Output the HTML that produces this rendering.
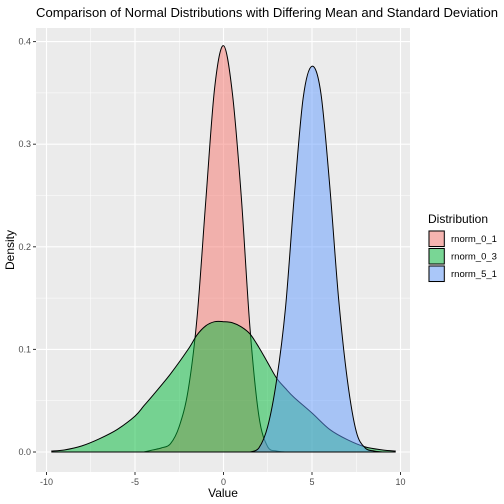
<!DOCTYPE html>
<html><head><meta charset="utf-8"><style>
body{margin:0;background:#fff;}
svg{display:block;font-family:"Liberation Sans",Arial,sans-serif;}
</style></head><body>
<svg id="chart" width="504" height="504">
<rect width="504" height="504" fill="#fff"/>
<text x="267" y="17" font-size="13.2" textLength="462" lengthAdjust="spacingAndGlyphs" text-anchor="middle" fill="#000">Comparison of Normal Distributions with Differing Mean and Standard Deviation</text>
<g id="panel"></g>
<text x="223" y="497" font-size="12" text-anchor="middle">Value</text>
<text transform="translate(14,250) rotate(-90)" font-size="12" text-anchor="middle">Density</text>
<g>
<text x="428" y="223" font-size="12">Distribution</text>
<g id="legend-keys"></g>
</g>
</svg>
<script>
const seriesNames = ["rnorm_0_1","rnorm_0_3","rnorm_5_1"];
const redX = [-4.5,-4,-3.5,-3,-2.5,-2,-1.5,-1,-0.5,0,0.5,1,1.5,2,2.5,3,3.5];
const redY = [0,0.002,0.004,0.008,0.025,0.06,0.13,0.245,0.355,0.396,0.35,0.25,0.12,0.035,0.005,0.001,0];
const greenX = [-9.7,-9,-8,-7,-6,-5,-4.5,-4,-3,-2,-1.5,-1,-0.5,0,0.5,1,1.5,2,2.5,3,3.5,4,5,6,7,8,9,9.7];
const greenY = [0.001,0.002,0.006,0.013,0.022,0.035,0.045,0.055,0.076,0.1,0.114,0.123,0.127,0.127,0.126,0.122,0.115,0.102,0.087,0.072,0.062,0.053,0.038,0.022,0.012,0.005,0.002,0.001];
const blueX = [1.5,2,2.5,3,3.5,4,4.5,5,5.5,6,6.5,7,7.5,8,8.5,9];
const blueY = [0,0.004,0.025,0.07,0.14,0.25,0.345,0.376,0.35,0.26,0.15,0.07,0.02,0.004,0.001,0];
const xTicks = [-10,-5,0,5,10];
const xTickLabels = ["-10","-5","0","5","10"];
const yTicks = [0,0.1,0.2,0.3,0.4];
const yTickLabels = ["0.0","0.1","0.2","0.3","0.4"];
const fills = ["#F8766D","#00BA38","#619CFF"];

const L=36,R=410,T=28,B=472;
const xs = v => 223.5 + 17.7*v;
const ys = d => 452 - 1026*d;
const NS="http://www.w3.org/2000/svg";
const panel=document.getElementById('panel');
function mk(tag,attrs,parent){const e=document.createElementNS(NS,tag);for(const k in attrs)e.setAttribute(k,attrs[k]);(parent||panel).appendChild(e);return e;}

const bg=mk('rect',{x:L,y:T,width:R-L,height:B-T,fill:'#EBEBEB'});


[-7.5,-2.5,2.5,7.5].forEach(v=>{const g=mk('line',{x1:xs(v),x2:xs(v),y1:T,y2:B,stroke:'#fff','stroke-width':0.5});

});
[0.05,0.15,0.25,0.35].forEach(v=>{const g=mk('line',{x1:L,x2:R,y1:ys(v),y2:ys(v),stroke:'#fff','stroke-width':0.5});

});
xTicks.forEach((v,i)=>{const g=mk('line',{x1:xs(v),x2:xs(v),y1:T,y2:B,stroke:'#fff','stroke-width':1.1});


const t=mk('line',{x1:xs(v),x2:xs(v),y1:B,y2:B+3,stroke:'#333','stroke-width':1});


const l=mk('text',{x:xs(v),y:B+13,'font-size':9,'text-anchor':'middle',fill:'#4D4D4D'});l.textContent=xTickLabels[i];

});
yTicks.forEach((v,i)=>{const g=mk('line',{x1:L,x2:R,y1:ys(v),y2:ys(v),stroke:'#fff','stroke-width':1.1});


const t=mk('line',{x1:L-3,x2:L,y1:ys(v),y2:ys(v),stroke:'#333','stroke-width':1});


const l=mk('text',{x:L-5,y:ys(v)+3,'font-size':9,'text-anchor':'end',fill:'#4D4D4D'});l.textContent=yTickLabels[i];

});

function curvePath(X,Y){
  const P=X.map((x,i)=>[xs(x),ys(Y[i])]);
  let d=`M${P[0][0]},${ys(0)} L${P[0][0]},${P[0][1]}`;
  for(let i=0;i<P.length-1;i++){
    const p0=P[Math.max(0,i-1)],p1=P[i],p2=P[i+1],p3=P[Math.min(P.length-1,i+2)];
    const c1=[p1[0]+(p2[0]-p0[0])/6,Math.min(ys(0),p1[1]+(p2[1]-p0[1])/6)];
    const c2=[p2[0]-(p3[0]-p1[0])/6,Math.min(ys(0),p2[1]-(p3[1]-p1[1])/6)];
    d+=` C${c1[0]},${c1[1]} ${c2[0]},${c2[1]} ${p2[0]},${p2[1]}`;
  }
  d+=` L${P[P.length-1][0]},${ys(0)} Z`;
  return d;
}
const series=[[redX,redY],[greenX,greenY],[blueX,blueY]];
series.forEach((s,i)=>{
  const p=mk('path',{d:curvePath(s[0],s[1]),fill:fills[i],'fill-opacity':0.5,stroke:'#000','stroke-width':1});
  
  
});

const lg=document.getElementById('legend-keys');
seriesNames.forEach((n,i)=>{
  const y=230+i*17.5;
  mk('rect',{x:428,y:y,width:17.3,height:17.5,fill:'#F2F2F2'},lg);
  const r=mk('rect',{x:429,y:y+1,width:15.3,height:15.5,fill:fills[i],'fill-opacity':0.5,stroke:'#000','stroke-width':1},lg);
  
  
  const t=mk('text',{x:451,y:y+12,'font-size':9.5,fill:'#000'},lg);t.textContent=n;
  
  
});
</script>
</body></html>
